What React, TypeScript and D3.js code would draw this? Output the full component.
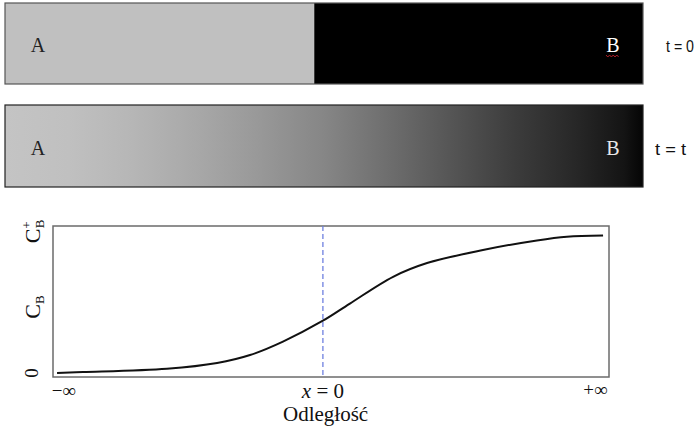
import React from "react";
import * as d3 from "d3";

// Concentration profile of species B across the junction (distance, relative concentration)
const distance = [-98.5, -88.9, -57.8, -39.2, -27, -14.8, 0, 10, 26, 38.6, 59.3, 79.3, 90.4, 103.8];
const concentration = [0, 0.006, 0.03, 0.072, 0.13, 0.228, 0.38, 0.505, 0.7, 0.8, 0.895, 0.965, 0.992, 1.0];

// Grey levels across the diffused bar (offset along bar, grey value)
const gradientOffsets = [0, 0.1, 0.2, 0.3, 0.4, 0.5, 0.6, 0.7, 0.8, 0.9, 0.97, 1];
const gradientGreys = [196, 192, 182, 168, 152, 134, 110, 85, 60, 38, 20, 5];

// Position of the initial boundary (fraction of bar width)
const boundaryFraction = [0.484];

const xTickLabels = ["−∞", "+∞"];
const yTickLabels = ["0", "C_B", "C+_B"];
const stateLabels = ["t = 0", "t = t"];

const W = 700;
const H = 429;
const serif = "'Liberation Serif', 'Times New Roman', serif";
const sans = "'Liberation Sans', Arial, sans-serif";

export default function App() {
  const plot = { left: 53, right: 609, top: 226, bottom: 377 };
  const x = d3.scaleLinear().domain([-100, 106]).range([plot.left, plot.right]);
  const y = d3.scaleLinear().domain([-0.03, 1.07]).range([plot.bottom, plot.top]);

  const pts = distance.map((d, i) => [d, concentration[i]] as [number, number]);
  const line = d3
    .line<[number, number]>()
    .x((d) => x(d[0]))
    .y((d) => y(d[1]))
    .curve(d3.curveCatmullRom.alpha(0.5));

  const bar = { left: 5, right: 643 };
  const barW = bar.right - bar.left;
  const splitX = bar.left + barW * boundaryFraction[0];
  const stops = gradientOffsets.map((o, i) => ({
    offset: o,
    color: d3.rgb(gradientGreys[i], gradientGreys[i], gradientGreys[i]).formatHex(),
  }));

  // squiggle under "B"
  const squiggle = d3.range(0, 8).map((i) => [606 + i * 1.8, i % 2 === 0 ? 55 : 57] as [number, number]);

  return (
    <svg
      width={W}
      height={H}
      style={{ position: "absolute", left: 0, top: 0, background: "#fff" }}
    >
      <defs>
        <linearGradient id="diffused" x1="0" x2="1" y1="0" y2="0">
          {stops.map((s, i) => (
            <stop key={i} offset={s.offset} stopColor={s.color} />
          ))}
        </linearGradient>
      </defs>

      {/* t = 0: sharp boundary */}
      <rect x={bar.left} y={3} width={splitX - bar.left} height={81} fill="#c0c0c0" />
      <rect x={splitX} y={3} width={bar.right - splitX} height={81} fill="#000" />
      <line x1={splitX} x2={splitX} y1={3} y2={84} stroke="#d0d0d0" strokeWidth={1} />
      <rect x={bar.left} y={3} width={barW} height={81} fill="none" stroke="#555" strokeWidth={1.2} />
      <text x={38} y={52} textAnchor="middle" fontFamily={serif} fontSize={20} fill="#222">A</text>
      <text x={613} y={52} textAnchor="middle" fontFamily={serif} fontSize={20} fill="#fff">B</text>
      <path d={d3.line()(squiggle) || ""} fill="none" stroke="#c0202a" strokeWidth={0.9} />
      <text x={666} y={52} fontFamily={sans} fontSize={17} fill="#111" textLength={28} lengthAdjust="spacingAndGlyphs">
        {stateLabels[0]}
      </text>

      {/* t = t: diffused profile */}
      <rect x={bar.left} y={105} width={barW} height={82} fill="url(#diffused)" stroke="#222" strokeWidth={1.2} />
      <text x={38} y={155} textAnchor="middle" fontFamily={serif} fontSize={20} fill="#222">A</text>
      <text x={613} y={155} textAnchor="middle" fontFamily={serif} fontSize={20} fill="#e8e8e8">B</text>
      <text x={655} y={155} fontFamily={sans} fontSize={17} fill="#111" textLength={31} lengthAdjust="spacingAndGlyphs">
        {stateLabels[1]}
      </text>

      {/* concentration plot */}
      <rect
        x={plot.left}
        y={plot.top}
        width={plot.right - plot.left}
        height={plot.bottom - plot.top}
        fill="none"
        stroke="#6b6b6b"
        strokeWidth={1.5}
      />
      <line
        x1={x(0)}
        x2={x(0)}
        y1={plot.top}
        y2={plot.bottom}
        stroke="#6f80e0"
        strokeWidth={1.3}
        strokeDasharray="5,3"
      />
      <path d={line(pts) || ""} fill="none" stroke="#111" strokeWidth={2} />

      {/* y labels */}
      <g fontFamily={serif} fill="#111">
        <text transform={`translate(38,${y(0)}) rotate(-90)`} textAnchor="middle" fontSize={19}>
          {yTickLabels[0]}
        </text>
        <text transform={`translate(40,${y(0.48)}) rotate(-90)`} textAnchor="middle" fontSize={22}>
          <tspan>C</tspan>
          <tspan fontSize={13} dy={4}>B</tspan>
        </text>
        <text transform={`translate(40,${y(1.03)}) rotate(-90)`} textAnchor="middle" fontSize={22}>
          <tspan>C</tspan>
          <tspan fontSize={13} dy={-9}>+</tspan>
          <tspan fontSize={13} dx={-7} dy={13}>B</tspan>
        </text>
      </g>

      {/* x labels */}
      <g fontFamily={serif} fill="#111">
        <text x={x(-96)} y={397} textAnchor="middle" fontSize={19}>{xTickLabels[0]}</text>
        <text x={x(0)} y={398} textAnchor="middle" fontSize={21}>
          <tspan fontStyle="italic">x</tspan> = 0
        </text>
        <text x={x(101)} y={396} textAnchor="middle" fontSize={19}>{xTickLabels[1]}</text>
        <text x={x(1)} y={421} textAnchor="middle" fontSize={21}>Odległość</text>
      </g>
    </svg>
  );
}
